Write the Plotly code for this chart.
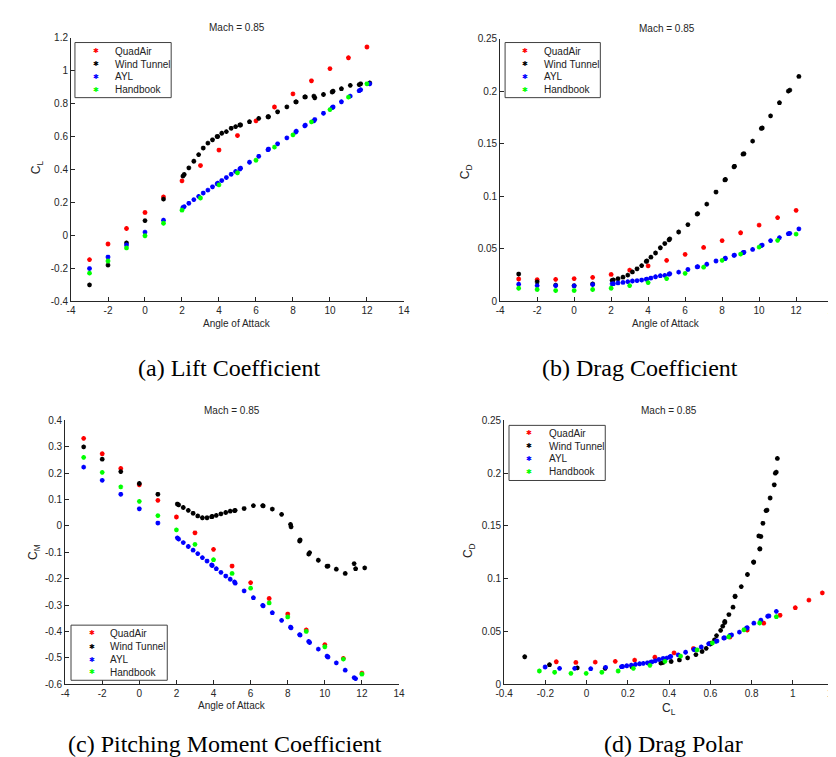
import plotly.graph_objects as go

# ---------------- data ----------------
qa_alpha = [-3, -2, -1, 0, 1, 2, 3, 4, 5, 6, 7, 8, 9, 10, 11, 12]
qa_cl = [-0.147, -0.052, 0.042, 0.139, 0.233, 0.331, 0.424, 0.518, 0.606, 0.695,
         0.779, 0.859, 0.938, 1.012, 1.078, 1.143]
qa_cd = [0.0213, 0.0206, 0.0209, 0.0216, 0.0228, 0.0256, 0.0297, 0.0338, 0.039, 0.0447,
         0.0513, 0.0578, 0.0653, 0.0725, 0.0797, 0.0866]
qa_cm = [0.332, 0.274, 0.218, 0.156, 0.097, 0.034, -0.026, -0.089, -0.152, -0.215,
         -0.275, -0.334, -0.394, -0.450, -0.502, -0.558]

wt_alpha = [-3, -2, -1, 0, 1, 2.05, 2.12, 2.37, 2.64, 2.90, 3.15, 3.40, 3.65, 3.90, 3.93,
            4.15, 4.40, 4.66, 4.90, 5.13, 5.17, 5.65, 6.15, 6.65, 6.68, 7.17, 7.67, 8.15,
            8.18, 8.64, 8.67, 9.13, 9.18, 9.65, 10.12, 10.17, 10.62, 11.10, 11.58, 11.66, 12.15]
wt_cl = [-0.30, -0.18, -0.045, 0.09, 0.22, 0.36, 0.37, 0.41, 0.45, 0.49, 0.53, 0.56, 0.58,
         0.60, 0.60, 0.62, 0.63, 0.65, 0.66, 0.67, 0.67, 0.69, 0.71, 0.72, 0.72, 0.75, 0.78,
         0.81, 0.81, 0.84, 0.84, 0.845, 0.835, 0.855, 0.87, 0.875, 0.89, 0.91, 0.915, 0.92, 0.925]
wt_cd = [0.026, 0.0185, 0.0155, 0.015, 0.0165, 0.020, 0.0205, 0.0215, 0.023, 0.025, 0.028,
         0.031, 0.034, 0.038, 0.0385, 0.042, 0.046, 0.051, 0.055, 0.0585, 0.0595, 0.066,
         0.073, 0.083, 0.0835, 0.0925, 0.104, 0.1155, 0.116, 0.128, 0.1285, 0.14, 0.1405,
         0.1525, 0.1645, 0.165, 0.1765, 0.189, 0.2, 0.201, 0.214]
wt_cm = [0.30, 0.253, 0.206, 0.161, 0.12, 0.083, 0.080, 0.070, 0.059, 0.048, 0.038, 0.031,
         0.031, 0.035, 0.036, 0.040, 0.046, 0.051, 0.056, 0.058, 0.059, 0.066, 0.077, 0.077,
         0.076, 0.064, 0.044, 0.006, -0.003, -0.057, -0.053, -0.107, -0.101, -0.13, -0.153,
         -0.152, -0.164, -0.18, -0.143, -0.162, -0.159]

avl_alpha = [-3, -2, -1, 0, 1, 2.05, 2.12, 2.37, 2.64, 2.90, 3.15, 3.40, 3.65, 3.90, 3.93,
             4.15, 4.40, 4.66, 4.90, 5.13, 5.17, 5.65, 6.15, 6.65, 6.68, 7.17, 7.67, 8.15,
             8.18, 8.64, 8.67, 9.13, 9.18, 9.65, 10.12, 10.17, 10.62, 11.10, 11.58, 11.66, 12.15]
avl_cl = [-0.201, -0.131, -0.058, 0.02, 0.092, 0.169, 0.175, 0.195, 0.217, 0.237, 0.257,
          0.275, 0.295, 0.313, 0.317, 0.333, 0.351, 0.371, 0.388, 0.403, 0.408, 0.444, 0.48,
          0.52, 0.524, 0.556, 0.592, 0.627, 0.632, 0.665, 0.669, 0.695, 0.703, 0.741, 0.775,
          0.779, 0.811, 0.845, 0.878, 0.884, 0.920]
avl_cd = [0.0163, 0.015, 0.015, 0.0147, 0.016, 0.0166, 0.0168, 0.0175, 0.018, 0.0188, 0.0194,
          0.0197, 0.0203, 0.021, 0.0212, 0.0222, 0.0234, 0.0244, 0.0247, 0.0258, 0.0263,
          0.0278, 0.0303, 0.0328, 0.033, 0.0353, 0.0384, 0.0406, 0.041, 0.0438, 0.044,
          0.0463, 0.0467, 0.0494, 0.0531, 0.0535, 0.0578, 0.0606, 0.0644, 0.0647, 0.069]
avl_cm = [0.223, 0.173, 0.12, 0.065, 0.011, -0.045, -0.05, -0.063, -0.078, -0.092, -0.105,
          -0.12, -0.133, -0.148, -0.15, -0.162, -0.176, -0.19, -0.202, -0.212, -0.217, -0.246,
          -0.272, -0.301, -0.303, -0.329, -0.358, -0.384, -0.386, -0.412, -0.414, -0.438,
          -0.442, -0.467, -0.494, -0.497, -0.519, -0.547, -0.575, -0.579, -0.601]

hb_alpha = [-3, -2, -1, 0, 1, 2, 3, 4, 5, 6, 7, 8, 9, 10, 11, 12]
hb_cl = [-0.229, -0.155, -0.076, -0.002, 0.074, 0.153, 0.227, 0.307, 0.38, 0.456, 0.536,
         0.61, 0.689, 0.763, 0.839, 0.92]
hb_cd = [0.0125, 0.0113, 0.0103, 0.0103, 0.0113, 0.0125, 0.015, 0.0178, 0.0216, 0.0266,
         0.0325, 0.039, 0.045, 0.0516, 0.058, 0.064]
hb_cm = [0.26, 0.203, 0.148, 0.093, 0.039, -0.015, -0.07, -0.128, -0.18, -0.236, -0.292,
         -0.345, -0.40, -0.458, -0.505, -0.562]

series_names = ["QuadAir", "Wind Tunnel", "AYL", "Handbook"]
series_colors = ["#ff0000", "#000000", "#0000ff", "#00ff00"]

alpha_ticks = [-4, -2, 0, 2, 4, 6, 8, 10, 12, 14]
alpha_ticktext = ["-4", "-2", "0", "2", "4", "6", "8", "10", "12", "14"]
cl_ticks = [-0.4, -0.2, 0, 0.2, 0.4, 0.6, 0.8, 1.0, 1.2]
cl_ticktext = ["-0.4", "-0.2", "0", "0.2", "0.4", "0.6", "0.8", "1", "1.2"]
cd_ticks = [0, 0.05, 0.1, 0.15, 0.2, 0.25]
cd_ticktext = ["0", "0.05", "0.1", "0.15", "0.2", "0.25"]
cm_ticks = [-0.6, -0.5, -0.4, -0.3, -0.2, -0.1, 0, 0.1, 0.2, 0.3, 0.4]
cm_ticktext = ["-0.6", "-0.5", "-0.4", "-0.3", "-0.2", "-0.1", "0", "0.1", "0.2", "0.3", "0.4"]

panel_title = "Mach = 0.85"
captions = ["(a) Lift Coefficient", "(b) Drag Coefficient",
            "(c) Pitching Moment Coefficient", "(d) Drag Polar"]

# ---------------- figure ----------------
W, H = 836, 757
def fx(p):
    return p / W
def fy(p):
    return 1 - p / H

fig = go.Figure()

datasets = [
    (qa_alpha, qa_cl, qa_cd, qa_cm),
    (wt_alpha, wt_cl, wt_cd, wt_cm),
    (avl_alpha, avl_cl, avl_cd, avl_cm),
    (hb_alpha, hb_cl, hb_cd, hb_cm),
]

for (al, cl, cd, cm), name, col in zip(datasets, series_names, series_colors):
    mk = dict(symbol="asterisk-open", size=4, color=col, line=dict(color=col, width=1.4))
    fig.add_trace(go.Scatter(x=al, y=cl, mode="markers", marker=mk, name=name,
                             xaxis="x", yaxis="y", showlegend=False, cliponaxis=False))
    fig.add_trace(go.Scatter(x=al, y=cd, mode="markers", marker=mk, name=name,
                             xaxis="x2", yaxis="y2", showlegend=False, cliponaxis=False))
    fig.add_trace(go.Scatter(x=al, y=cm, mode="markers", marker=mk, name=name,
                             xaxis="x3", yaxis="y3", showlegend=False, cliponaxis=False))
    fig.add_trace(go.Scatter(x=cl, y=cd, mode="markers", marker=mk, name=name,
                             xaxis="x4", yaxis="y4", showlegend=False, cliponaxis=False))

axcol = "#262626"
tickfont = dict(family="Liberation Sans, Arial, sans-serif", size=10, color=axcol)
def axis(domain, rng, tv, tt, anchor):
    return dict(domain=domain, range=rng, tickvals=tv, ticktext=tt, anchor=anchor,
                showline=True, linecolor=axcol, linewidth=1, ticks="inside", ticklen=4,
                tickwidth=1, tickcolor=axcol, showgrid=False, zeroline=False,
                mirror=False, tickfont=tickfont, fixedrange=True)

# plot areas in pixels (left, right, top, bottom)
boxes = {
    "a": (55, 394, 24, 292),
    "b": (492, 831, 25, 292),
    "c": (49, 389, 413, 681),
    "d": (496, 832, 413, 681),
}
def xd(k):
    l, r, t, b = boxes[k]
    return [fx(l), fx(r)]
def yd(k):
    l, r, t, b = boxes[k]
    return [fy(b), fy(t)]

fig.update_layout(
    width=W, height=H,
    margin=dict(l=0, r=0, t=0, b=0),
    paper_bgcolor="white", plot_bgcolor="white",
    showlegend=False,
    xaxis=axis(xd("a"), [-4, 14], alpha_ticks, alpha_ticktext, "y"),
    yaxis=axis(yd("a"), [-0.4, 1.2], cl_ticks, cl_ticktext, "x"),
    xaxis2=axis(xd("b"), [-4, 14], alpha_ticks, alpha_ticktext, "y2"),
    yaxis2=axis(yd("b"), [0, 0.25], cd_ticks, cd_ticktext, "x2"),
    xaxis3=axis(xd("c"), [-4, 14], alpha_ticks, alpha_ticktext, "y3"),
    yaxis3=axis(yd("c"), [-0.6, 0.4], cm_ticks, cm_ticktext, "x3"),
    xaxis4=axis(xd("d"), [-0.4, 1.2], cl_ticks, cl_ticktext, "y4"),
    yaxis4=axis(yd("d"), [0, 0.25], cd_ticks, cd_ticktext, "x4"),
)

ann = []
shapes = []
sans = "Liberation Sans, Arial, sans-serif"

def text(xp, yp, s, size=10, xanchor="center", yanchor="middle", angle=0,
         family=sans, color=axcol):
    ann.append(dict(x=fx(xp), y=fy(yp), xref="paper", yref="paper", text=s,
                    showarrow=False, xanchor=xanchor, yanchor=yanchor, textangle=angle,
                    font=dict(family=family, size=size, color=color)))

# titles
for k in "abcd":
    l, r, t, b = boxes[k]
    text((l + r) / 2, t - 10, panel_title)

# x axis titles
text(224, 314, "Angle of Attack")
text(661, 314, "Angle of Attack")
text(219, 703, "Angle of Attack")
text(664, 706, "C<sub>L</sub>", size=12)

# y axis titles
text(20, 156, "C<sub>L</sub>", size=12, angle=-90)
text(458, 160, "C<sub>D</sub>", size=12, angle=-90)
text(18, 547, "C<sub>M</sub>", size=12, angle=-90)
text(461, 545, "C<sub>D</sub>", size=12, angle=-90)

# captions
serif = "Liberation Serif, Times New Roman, serif"
text(216, 360, captions[0], size=24, family=serif, color="black")
text(634, 360, captions[1], size=24, family=serif, color="black")
text(212, 742, captions[2], size=24, family=serif, color="black")
text(668, 742, captions[3], size=24, family=serif, color="black")

# legends (box, glyph, label)
legend_boxes = [
    (59, 157, 29, 85, 80, 98, [38, 51, 64, 77]),
    (497, 594, 29, 85, 517, 535, [38, 51, 64, 77]),
    (55, 153, 621, 677, 76, 93, [629, 643, 656, 669]),
    (501, 599, 418, 474, 521, 540, [426, 439, 452, 465]),
]
for (l, r, t, b, mx, tx, rows) in legend_boxes:
    shapes.append(dict(type="rect", xref="paper", yref="paper",
                       x0=fx(l), x1=fx(r), y0=fy(b), y1=fy(t),
                       line=dict(color="#404040", width=1), fillcolor="white", layer="above"))
    for yy, name, col in zip(rows, series_names, series_colors):
        text(mx, yy, "✱", size=7, family="DejaVu Sans", color=col)
        text(tx, yy, name, xanchor="left", color="#222222")

fig.update_layout(annotations=ann, shapes=shapes)
fig.write_html("out.html")
